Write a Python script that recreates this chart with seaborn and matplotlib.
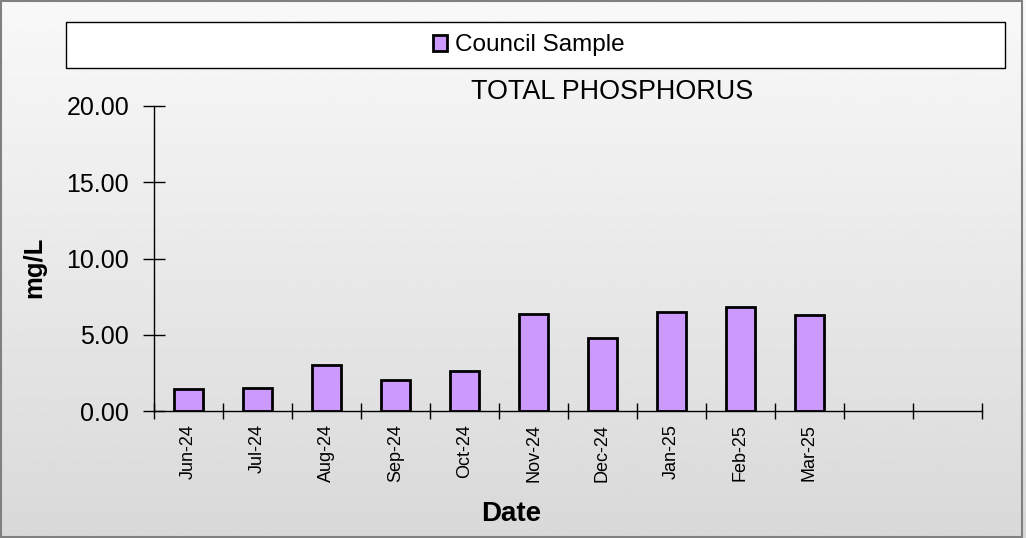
import numpy as np
import pandas as pd
import matplotlib
matplotlib.use("Agg")
import matplotlib.pyplot as plt
from matplotlib.patches import Rectangle, Patch
import seaborn as sns

# valeurs
dates = ["Jun-24", "Jul-24", "Aug-24", "Sep-24", "Oct-24", "Nov-24",
         "Dec-24", "Jan-25", "Feb-25", "Mar-25"]
phosphorus = [1.46, 1.53, 3.03, 2.03, 2.66, 6.39, 4.82, 6.48, 6.81, 6.33]
extra_slots = ["", " "]  # deux emplacements vides a droite
y_ticks = [0, 5, 10, 15, 20]

df = pd.DataFrame({"Date": dates, "mg/L": phosphorus})

sns.set_theme(style="white")
plt.rcParams["font.family"] = ["Liberation Sans", "DejaVu Sans"]
plt.rcParams["text.color"] = "black"
plt.rcParams["xtick.color"] = "black"
plt.rcParams["ytick.color"] = "black"

fig = plt.figure(figsize=(10.26, 5.38), dpi=100)

# fond en degrade
bg = fig.add_axes([0, 0, 1, 1], zorder=-2)
grad = np.linspace(0.975, 0.85, 256).reshape(-1, 1)
bg.imshow(grad, cmap="gray", vmin=0, vmax=1, aspect="auto", extent=[0, 1, 0, 1])
bg.set_xlim(0, 1)
bg.set_ylim(0, 1)
bg.axis("off")
fig.patches.append(Rectangle((0.001, 0.002), 0.995, 0.996, transform=fig.transFigure,
                             fill=False, edgecolor="#808080", lw=1.5))

ax = fig.add_axes([154 / 1026, 1 - 411.3 / 538, (982 - 154) / 1026, (411.3 - 105.9) / 538])
ax.patch.set_alpha(0)

order = dates + extra_slots
sns.barplot(data=df, x="Date", y="mg/L", order=order, color="#CC99FF",
            saturation=1, width=0.41, edgecolor="black", linewidth=2, ax=ax)

ax.set_xlim(-0.5, len(order) - 0.5)
ax.set_ylim(0, 20)
ax.set_yticks(y_ticks)
ax.set_yticklabels([f"{v:.2f}" for v in y_ticks], fontsize=18)
ax.tick_params(axis="y", direction="inout", length=16, width=1, color="black", pad=10, left=True)

# ticks aux limites des categories, etiquettes au centre
ax.set_xticks(np.arange(-0.5, len(order)), labels=[])
ax.tick_params(axis="x", which="major", direction="inout", length=12, width=1, color="black", bottom=True)
ax.set_xticks(np.arange(len(dates)), minor=True)
ax.set_xticklabels(dates, minor=True, rotation=90, fontsize=13)
ax.tick_params(axis="x", which="minor", length=0, pad=9)

for s in ["top", "right"]:
    ax.spines[s].set_visible(False)
for s in ["left", "bottom"]:
    ax.spines[s].set_color("black")
    ax.spines[s].set_linewidth(1)

ax.set_xlabel("")
ax.set_ylabel("")

fig.text(34 / 1026, 1 - 267 / 538, "mg/L", rotation=90, fontsize=18.5,
         fontweight="bold", ha="center", va="center")
fig.text(511 / 1026, 1 - 514 / 538, "Date", fontsize=20,
         fontweight="bold", ha="center", va="center")
fig.text(612 / 1026, 1 - 92 / 538, "TOTAL PHOSPHORUS", fontsize=19.4,
         ha="center", va="center")

# boite de legende
fig.patches.append(Rectangle((66 / 1026, 1 - 68.5 / 538), (1005 - 66) / 1026, 46.5 / 538,
                             transform=fig.transFigure, facecolor="white",
                             edgecolor="black", lw=1))
handle = Patch(facecolor="#CC99FF", edgecolor="black", linewidth=2)
fig.legend([handle], ["Council Sample"], loc="center",
           bbox_to_anchor=(528.5 / 1026, 1 - 45.5 / 538), frameon=False,
           fontsize=17.5, handlelength=0.6, handleheight=0.6, handletextpad=0.3)

fig.savefig("out.png", dpi=100)
plt.close(fig)
